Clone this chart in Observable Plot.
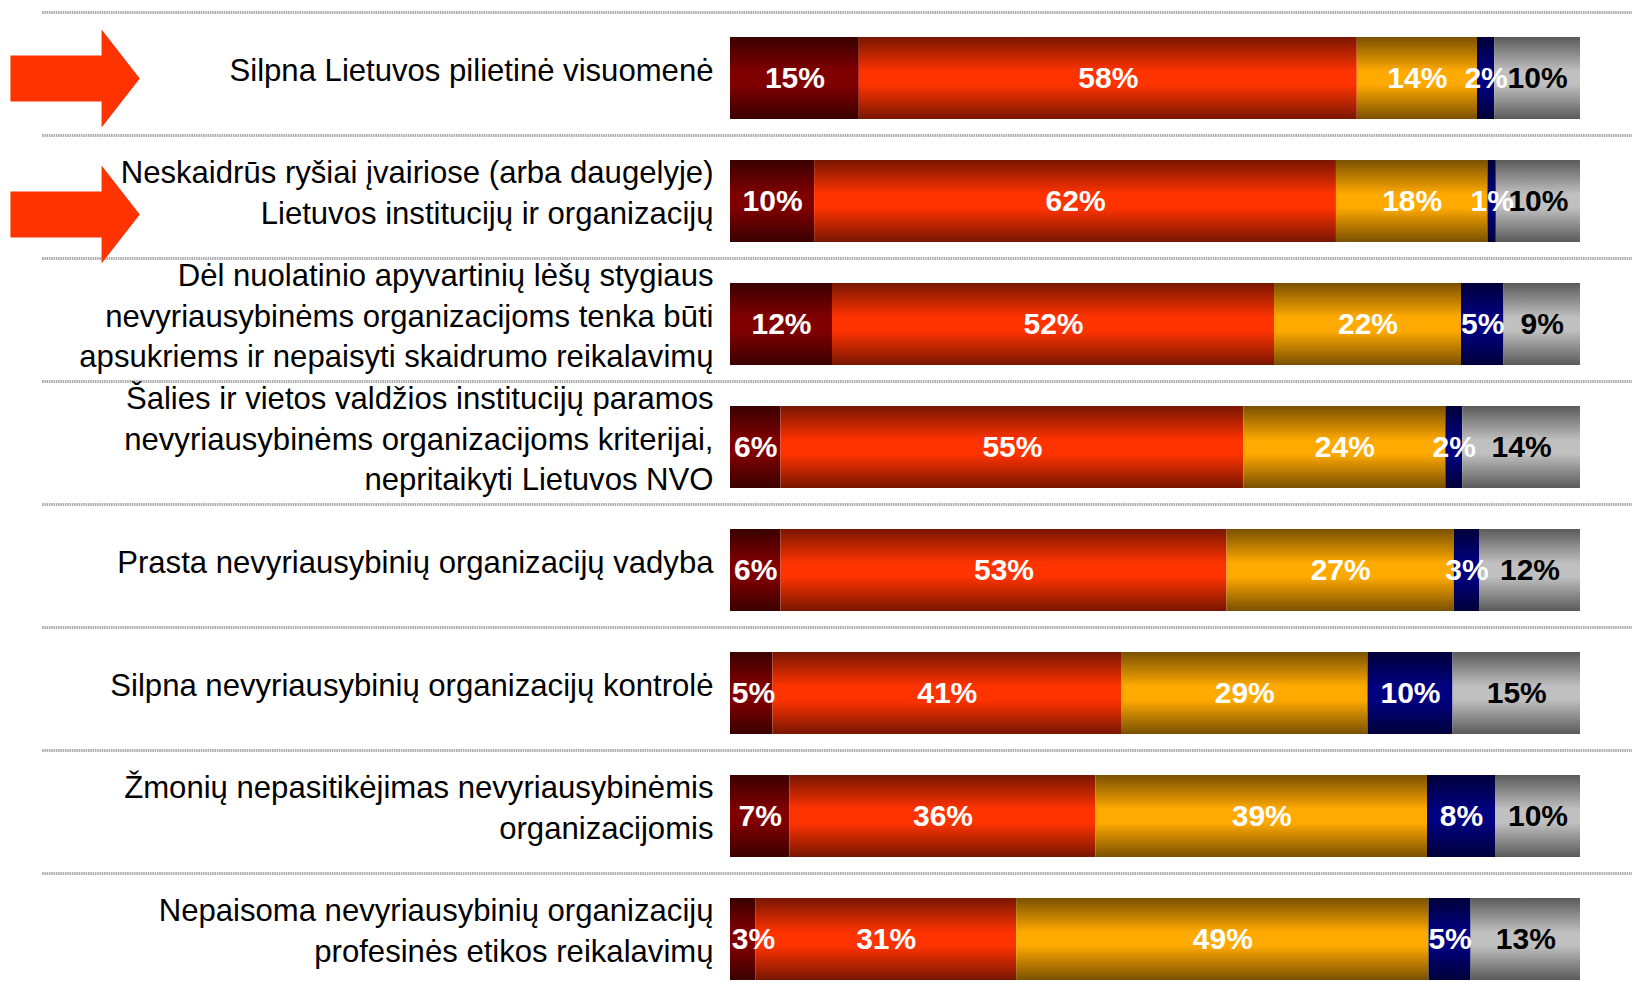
<!DOCTYPE html>
<html>
<head>
<meta charset="utf-8">
<script src="https://cdn.jsdelivr.net/npm/d3@7"></script>
<script src="https://cdn.jsdelivr.net/npm/@observablehq/plot@0.6"></script>
<style>
  html, body { margin: 0; padding: 0; background: #ffffff; }
  #chart svg { display: block; }
</style>
</head>
<body>
<div id="chart"></div>
<script>
// ---------- data ----------
const categories = [
  "Silpna Lietuvos pilietinė visuomenė",
  "Neskaidrūs ryšiai įvairiose (arba daugelyje)\nLietuvos institucijų ir organizacijų",
  "Dėl nuolatinio apyvartinių lėšų stygiaus\nnevyriausybinėms organizacijoms tenka būti\napsukriems ir nepaisyti skaidrumo reikalavimų",
  "Šalies ir vietos valdžios institucijų paramos\nnevyriausybinėms organizacijoms kriterijai,\nnepritaikyti Lietuvos NVO",
  "Prasta nevyriausybinių organizacijų vadyba",
  "Silpna nevyriausybinių organizacijų kontrolė",
  "Žmonių nepasitikėjimas nevyriausybinėmis\norganizacijomis",
  "Nepaisoma nevyriausybinių organizacijų\nprofesinės etikos reikalavimų"
];
const seriesNames = ["s1", "s2", "s3", "s4", "s5"];
const s1 = [15, 10, 12, 6, 6, 5, 7, 3];
const s2 = [58, 62, 52, 55, 53, 41, 36, 31];
const s3 = [14, 18, 22, 24, 27, 29, 39, 49];
const s4 = [2, 1, 5, 2, 3, 10, 8, 5];
const s5 = [10, 10, 9, 14, 12, 15, 10, 13];
const highlightedFirst = [categories[0]];
const highlightedSecond = [categories[1]];

// ---------- styles ----------
const seriesFull = ["#800000", "#ff3300", "#ffaa00", "#000080", "#c0c0c0"];
const seriesEdge = ["#3a0000", "#781600", "#7a5000", "#00003a", "#5a5a5a"];
const labelInk = ["first", "white", "white", "white", "black"];
const minLabelCenter = 0.027; // keeps the first label inside the bar (fraction of bar)

const seriesValues = [s1, s2, s3, s4, s5];
const rows = [];
categories.forEach((c, i) => {
  seriesNames.forEach((s, j) => {
    rows.push({category: c, series: s, value: seriesValues[j][i], ink: labelInk[j]});
  });
});
const firstLabels = categories.map((c, i) => {
  const total = seriesValues.reduce((a, sv) => a + sv[i], 0);
  return {category: c, value: s1[i], pos: Math.max(s1[i] / (2 * total), minLabelCenter)};
});

const blockArrow = {
  draw(ctx, size) {
    const r = Math.sqrt(size / Math.PI);
    const L = -1.32 * r, S = 0.54 * r, h = 0.47 * r, T = 1.32 * r;
    ctx.moveTo(L, -h); ctx.lineTo(S, -h); ctx.lineTo(S, -r); ctx.lineTo(T, 0);
    ctx.lineTo(S, r); ctx.lineTo(S, h); ctx.lineTo(L, h); ctx.closePath();
  }
};

const font = "'Liberation Sans', Arial, sans-serif";
const stackOpts = {offset: "normalize", x: "value", y: "category", z: "series"};
const pctStyle = {fontWeight: "bold", fontSize: 30, fontFamily: font};

const svg = Plot.plot({
  width: 1632,
  height: 990,
  marginLeft: 42,
  marginRight: 0,
  marginTop: 15,
  marginBottom: 0,
  style: {background: "#ffffff", fontFamily: font},
  x: {domain: [0, 1], range: [730, 1580], axis: null},
  y: {domain: categories, paddingInner: 0.335, paddingOuter: 0.121, align: 0.67, axis: null},
  color: {domain: seriesNames, range: seriesNames.map((_, i) => `url(#grad${i})`)},
  marks: [
    Plot.ruleY(categories, {y: d => d, dy: -66, stroke: "#ababab", strokeWidth: 3.2, strokeDasharray: "1.5 0.8"}),
    Plot.dot(highlightedFirst, {y: d => d, frameAnchor: "left", dx: 32.6, r: 49, symbol: blockArrow, fill: "#ff3300"}),
    Plot.dot(highlightedSecond, {y: d => d, frameAnchor: "left", dx: 32.6, dy: 13, r: 49, symbol: blockArrow, fill: "#ff3300"}),
    Plot.barX(rows, Plot.stackX({...stackOpts, fill: "series"})),
    Plot.text(firstLabels, {x: "pos", y: "category", text: d => d.value + "%", fill: "white", ...pctStyle}),
    Plot.text(rows, Plot.stackX({...stackOpts, text: d => d.ink === "white" ? d.value + "%" : "",
      fill: "white", ...pctStyle})),
    Plot.text(rows, Plot.stackX({...stackOpts, text: d => d.ink === "black" ? d.value + "%" : "",
      fill: "black", ...pctStyle})),
    Plot.text(categories, {y: d => d, x: 0, text: d => d, textAnchor: "end", dx: -17, dy: -11,
      fontSize: 31.1, lineHeight: 1.31, fontFamily: font, fill: "black"})
  ]
});

const defs = d3.select(svg).insert("defs", ":first-child");
seriesFull.forEach((full, i) => {
  const g = defs.append("linearGradient").attr("id", `grad${i}`)
    .attr("x1", 0).attr("y1", 0).attr("x2", 0).attr("y2", 1);
  [[0, seriesEdge[i]], [0.42, full], [0.58, full], [1, seriesEdge[i]]].forEach(([o, col]) =>
    g.append("stop").attr("offset", o).attr("stop-color", col));
});

document.getElementById("chart").append(svg);
</script>
</body>
</html>
